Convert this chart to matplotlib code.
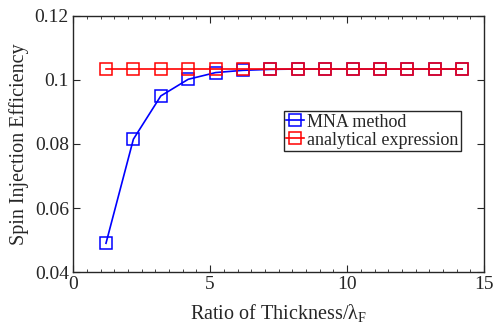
import matplotlib
matplotlib.use("Agg")
import matplotlib.pyplot as plt
from matplotlib.ticker import MultipleLocator

plt.rcParams['font.family'] = ['Liberation Serif', 'DejaVu Serif']
plt.rcParams['mathtext.fontset'] = 'custom'
plt.rcParams['mathtext.rm'] = 'Liberation Serif'
plt.rcParams['mathtext.it'] = 'Liberation Serif'

ratio = [1.2, 2.2, 3.2, 4.2, 5.2, 6.2, 7.2, 8.2, 9.2, 10.2, 11.2, 12.2, 13.2, 14.2]
mna = [0.0490, 0.0815, 0.0950, 0.1002, 0.1023, 0.1030, 0.1033, 0.1034, 0.1034, 0.1034, 0.1034, 0.1034, 0.1034, 0.1034]
analytical = [0.1034] * 14
yticks = [0.04, 0.06, 0.08, 0.1, 0.12]
ytick_labels = ["0.04", "0.06", "0.08", "0.1", "0.12"]
xticks = [0, 5, 10, 15]

fig = plt.figure(figsize=(4.94, 3.31), dpi=100)
ax = fig.add_axes([0.148, 0.178, 0.832, 0.774])

ax.plot(ratio, mna, color='#0000ff', lw=1.2, marker='s', ms=8.5, mfc='none', mew=1.1,
        label='MNA method')
ax.plot(ratio, analytical, color='#ff0000', lw=1.2, marker='s', ms=8.5, mfc='none', mew=1.1,
        label='analytical expression')

ax.set_xlim(0, 15)
ax.set_ylim(0.04, 0.12)
ax.set_xticks(xticks)
ax.set_yticks(yticks)
ax.set_yticklabels(ytick_labels)
ax.xaxis.set_minor_locator(MultipleLocator(0.5))
ax.tick_params(which='both', direction='in', top=True, right=True, labelsize=14, color='#262626',
               labelcolor='#262626')
ax.tick_params(which='major', length=5, width=0.8, pad=3)
ax.tick_params(which='minor', length=2.5, width=0.6)
for s in ax.spines.values():
    s.set_color('#262626')
    s.set_linewidth(1.0)

ax.set_xlabel(r'Ratio of Thickness/$\lambda_{\mathrm{F}}$', fontsize=14.5, color='#262626', labelpad=6)
ax.set_ylabel('Spin Injection Efficiency', fontsize=14.5, color='#262626', labelpad=4)

leg = ax.legend(loc='upper right', bbox_to_anchor=(0.944, 0.629), fontsize=13,
                handlelength=1.0, handletextpad=0.15, borderpad=0.15, labelspacing=0.05,
                fancybox=False, edgecolor='#262626', framealpha=1, borderaxespad=0)
leg.get_frame().set_linewidth(1.0)
for t in leg.get_texts():
    t.set_color('#262626')

fig.savefig('out.png', dpi=100)
